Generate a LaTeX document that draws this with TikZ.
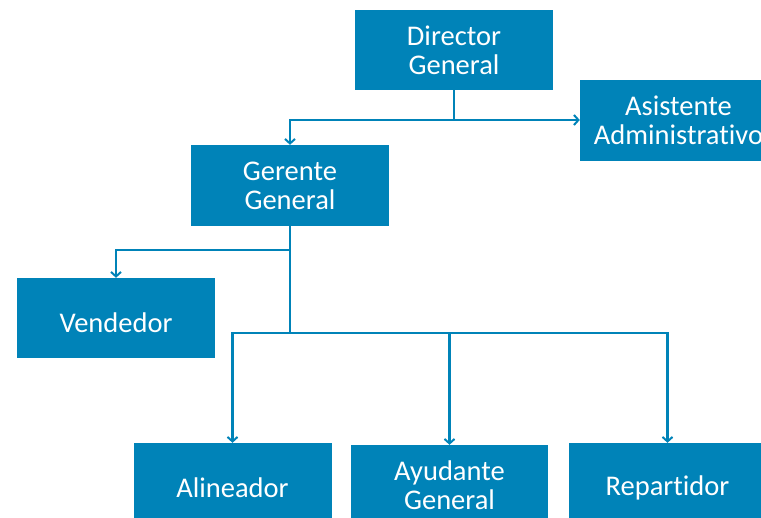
\documentclass[tikz,border=0pt]{standalone}
\usepackage{fontspec}
\setmainfont[Ligatures=NoCommon]{Carlito}
\usetikzlibrary{arrows.meta}
\definecolor{boxblue}{RGB}{0,131,184}
\tikzset{
  orgbox/.style={fill=boxblue, draw=none, minimum width=198pt, minimum height=80pt, inner sep=0pt,
    text=white, align=center, font=\fontsize{28.5pt}{29pt}\selectfont},
  orgtext/.style={text=white, inner sep=0pt, font=\fontsize{28.5pt}{29pt}\selectfont},
  conn/.style={draw=boxblue, line width=2.7pt},
  arr/.style={conn, -{Straight Barb[length=4.5pt,width=10pt,line width=2pt]}}
}
\begin{document}
\begin{tikzpicture}[x=1pt,y=-1pt]
\useasboundingbox (0,0) rectangle (761,518);
\clip (0,0) rectangle (761,518);
\node[orgbox] (dir) at (454,50) {Director\\General};
\node[orgbox, minimum width=197pt, minimum height=81pt] (asis) at (678.5,120.5) {Asistente\\Administrativo};
\node[orgbox, minimum height=81pt] (ger) at (290,185.5) {Gerente\\General};
\node[orgbox] (ven) at (116,318) {};
\node[orgtext] (vent) at (116,323) {Vendedor};
\node[orgbox] (ali) at (232.5,483) {};
\node[orgtext] (alit) at (232.5,488) {Alineador};
\node[orgbox, minimum width=197pt] (ayu) at (449.5,485) {Ayudante\\General};
\node[orgbox, minimum width=197pt] (rep) at (667.5,483) {};
\node[orgtext] (rept) at (667.5,488) {Repartidor};

\coordinate (j1) at (454,120);
\coordinate (j2) at (290,250);
\coordinate (j3) at (290,333);

\draw[conn] (dir.south) -- (j1);
\draw[arr] (j1) -- (j1 -| asis.west);
\draw[arr] (j1) -| (ger.north);
\draw[conn] (ger.south) -- (j3);
\draw[arr] (j2) -| (ven.north);
\draw[arr] (j3) -| (ali.north);
\draw[arr] (j3) -| (ayu.north);
\draw[arr] (j3) -| (rep.north);
\end{tikzpicture}
\end{document}
